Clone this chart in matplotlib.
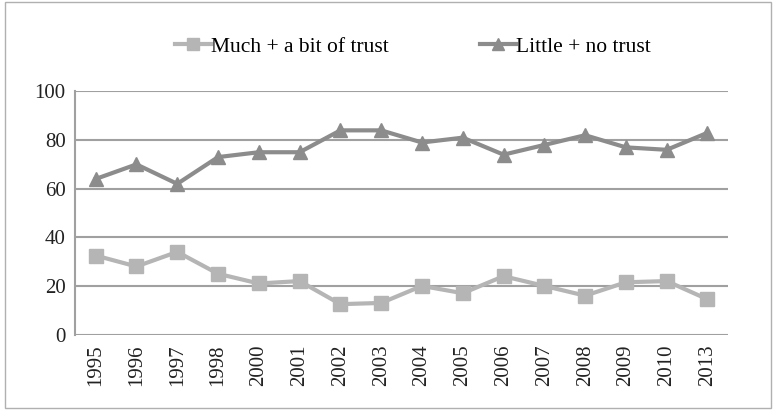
import matplotlib.pyplot as plt
from matplotlib.patches import Rectangle

years = ["1995", "1996", "1997", "1998", "2000", "2001", "2002", "2003",
         "2004", "2005", "2006", "2007", "2008", "2009", "2010", "2013"]
much_trust = [32.5, 28, 34, 25, 21, 22, 12.5, 13, 20, 17, 24, 20, 16, 21.5, 22, 14.5]
little_trust = [64, 70, 62, 73, 75, 75, 84, 84, 79, 81, 74, 78, 82, 77, 76, 83]

plt.rcParams['font.family'] = ['Liberation Serif', 'DejaVu Serif']

fig = plt.figure(figsize=(7.76, 4.12), dpi=100)
ax = fig.add_axes([0.097, 0.188, 0.841, 0.59])

x = range(len(years))
ax.plot(x, much_trust, color='#b5b5b5', lw=3, marker='s', ms=10,
        label="Much + a bit of trust")
ax.plot(x, little_trust, color='#8c8c8c', lw=3, marker='^', ms=10,
        label="Little + no trust")

ax.set_ylim(0, 100)
ax.set_xlim(-0.5, len(years) - 0.5)
ax.set_yticks(range(0, 101, 20))
ax.set_xticks(list(x))
ax.set_xticklabels(years, rotation=90)
ax.yaxis.grid(True, color='#a0a0a0', lw=1.5)
ax.set_axisbelow(True)
ax.tick_params(length=0, labelsize=15, colors='#222222', pad=7)
for s in ['top', 'right', 'bottom']:
    ax.spines[s].set_visible(False)
ax.spines['left'].set_color('#a0a0a0')
ax.spines['left'].set_linewidth(1.5)

fig.legend(loc='center', bbox_to_anchor=(0.532, 0.886), ncol=2, frameon=False,
           fontsize=15.5, handlelength=1.7, handletextpad=0.0, columnspacing=4.2,
           markerscale=0.8)

fig.patches.append(Rectangle((0.006, 0.01), 0.988, 0.985, transform=fig.transFigure,
                             fill=False, edgecolor='#b0b0b0', lw=1))

fig.savefig("out.png")
